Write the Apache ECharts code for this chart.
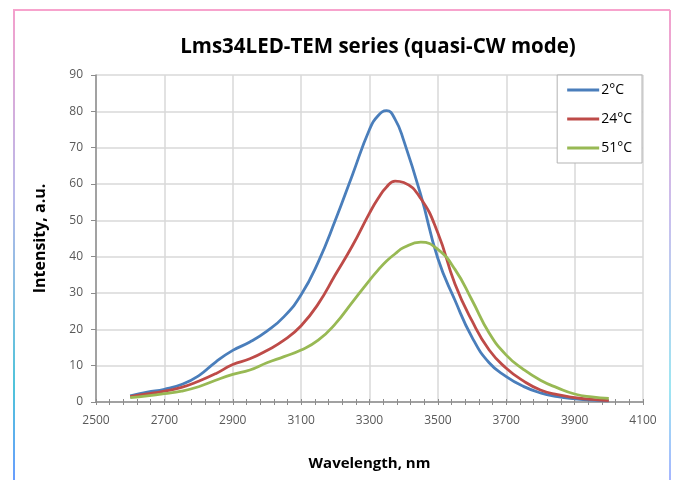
<!DOCTYPE html>
<html>
<head>
<meta charset="utf-8">
<script src="https://cdn.jsdelivr.net/npm/echarts@6/dist/echarts.min.js"></script>
<style>
html,body{margin:0;padding:0;background:#fff;}
#chart{width:675px;height:480px;}
</style>
</head>
<body>
<div id="chart"></div>
<script>
const wavelengths = [2600,2650,2700,2750,2800,2850,2900,2950,3000,3050,3100,3150,3200,3250,3300,3325,3350,3375,3400,3450,3500,3550,3600,3650,3700,3750,3800,3850,3900,3950,4000];
const temp2 = [1.7,2.7,3.5,4.8,7.2,11.0,14.2,16.5,19.5,23.5,29.5,38.5,50,62.5,75,78.8,80.2,77.8,72,57,39.5,28,17.8,10.8,7,4.3,2.5,1.5,0.9,0.5,0.3];
const temp24 = [1.5,2.2,3.0,4.0,5.7,7.8,10.3,11.9,14.2,17,21,27,35,43,52,56,59.2,60.8,60.4,56,46.5,32.5,22.3,14.3,9.3,5.8,3.3,2.0,1.2,0.7,0.4];
const temp51 = [1.2,1.7,2.3,3.0,4.2,6.0,7.6,8.8,10.8,12.5,14.3,17,21.5,27.5,33.5,36.3,38.8,40.8,42.5,44,42,36.5,28,19,12.9,9,6,3.9,2.2,1.4,1.0];
const seriesNames = ['2°C','24°C','51°C'];
const seriesColors = ['#4a7ebb','#be4b48','#98b954'];
const xTicks = {min:2500, max:4100, interval:200};
const yTicks = {min:0, max:90, interval:10};

const chart = echarts.init(document.getElementById('chart'));
const values = [temp2, temp24, temp51];
const axisGrey = '#8c8c8c';
const lineIcon = 'path://M0,0H32V3H0Z';
chart.setOption({
  backgroundColor:'#fff',
  animation:false,
  title:{
    text:'Lms34LED-TEM series (quasi-CW mode)',
    left:373, top:32, textAlign:'center',
    textStyle:{fontFamily:'Open Sans', fontWeight:'bold', fontSize:20.5, color:'#000'}
  },
  graphic:[
    {type:'line', shape:{x1:13,y1:10,x2:670,y2:10}, style:{stroke:'#f7a3cd', lineWidth:2}},
    {type:'line', shape:{x1:14,y1:10,x2:14,y2:480}, style:{lineWidth:2, stroke:{type:'linear',x:0,y:0,x2:0,y2:1,colorStops:[{offset:0,color:'#f4a0cc'},{offset:0.4,color:'#b9b9ea'},{offset:0.8,color:'#4fc3da'},{offset:1,color:'#6a9cff'}]}}},
    {type:'line', shape:{x1:670,y1:10,x2:670,y2:480}, style:{lineWidth:2, stroke:{type:'linear',x:0,y:0,x2:0,y2:1,colorStops:[{offset:0,color:'#f4a0cc'},{offset:0.45,color:'#c8c0ee'},{offset:0.8,color:'#9ee6f2'},{offset:1,color:'#a6b4ff'}]}}}
  ],
  legend:{
    orient:'vertical', right:33, top:75,
    icon: lineIcon,
    itemWidth:32, itemHeight:14, itemGap:15,
    padding:[8,10,8,10],
    backgroundColor:'#fff', borderColor:'#b3b3b3', borderWidth:1,
    textStyle:{fontFamily:'Open Sans', fontSize:14, color:'#000', padding:[0,0,0,-3]},
    data:seriesNames
  },
  grid:{left:96, right:32, top:75, bottom:78},
  xAxis:[{
    type:'value', min:xTicks.min, max:xTicks.max, interval:xTicks.interval,
    name:'Wavelength, nm', nameLocation:'middle', nameGap:54,
    nameTextStyle:{fontFamily:'Open Sans', fontWeight:'bold', fontSize:15, color:'#000'},
    axisLine:{lineStyle:{color:axisGrey, width:1.5}},
    axisTick:{show:true, inside:false, length:3, lineStyle:{color:axisGrey}},
    minorTick:{show:true, splitNumber:5, length:3, lineStyle:{color:axisGrey}},
    axisLabel:{fontFamily:'Open Sans', fontSize:12, color:'#595959', margin:13, formatter:v=>String(v)},
    splitLine:{show:true, lineStyle:{color:'#d9d9d9', width:1.5}}
  },{
    type:'value', min:xTicks.min, max:xTicks.max, interval:xTicks.interval, position:'bottom',
    axisLine:{show:false},
    axisTick:{show:true, inside:true, length:3, lineStyle:{color:axisGrey}},
    minorTick:{show:true, splitNumber:5, length:3, lineStyle:{color:axisGrey}},
    axisLabel:{show:false}, splitLine:{show:false}
  }],
  yAxis:{
    type:'value', min:yTicks.min, max:yTicks.max, interval:yTicks.interval,
    name:'Intensity, a.u.', nameLocation:'middle', nameGap:48, nameRotate:90,
    nameTextStyle:{fontFamily:'Open Sans', fontWeight:'bold', fontSize:16, color:'#000'},
    axisLine:{show:true, lineStyle:{color:axisGrey, width:1.5}},
    axisTick:{show:true, length:5, lineStyle:{color:axisGrey}},
    axisLabel:{fontFamily:'Open Sans', fontSize:12, color:'#595959', margin:13, formatter:v=>String(v)},
    splitLine:{show:true, lineStyle:{color:'#d9d9d9', width:1.5}}
  },
  series: seriesNames.map((n,i)=>({
    name:n, type:'line', smooth:0.5, symbol:'none',
    data: wavelengths.map((w,j)=>[w, values[i][j]]),
    lineStyle:{color:seriesColors[i], width:2.8},
    itemStyle:{color:seriesColors[i]}
  }))
});
</script>
</body>
</html>
